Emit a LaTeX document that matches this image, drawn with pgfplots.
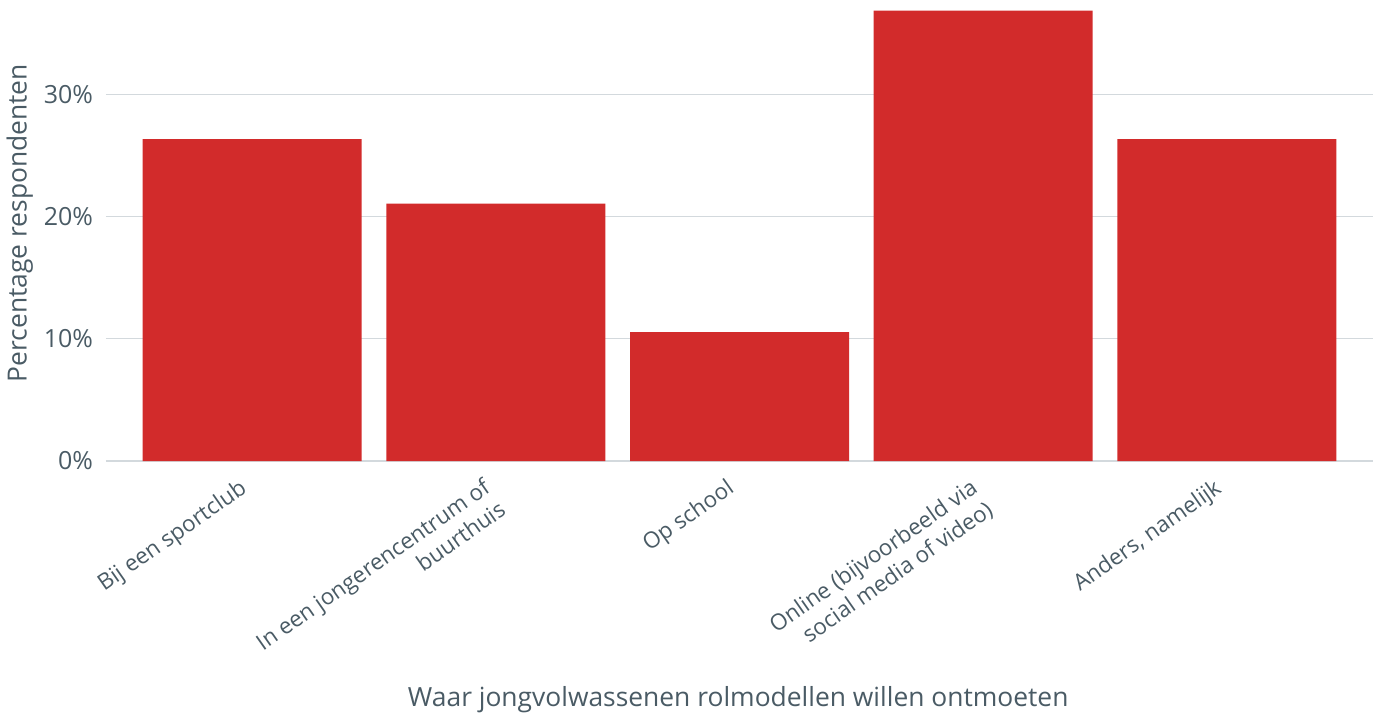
\documentclass[border=0pt]{standalone}
\usepackage{fontspec}
\setmainfont{Open Sans}
\usepackage{pgfplots}
\pgfplotsset{compat=1.18}
\definecolor{barred}{HTML}{D22B2B}
\definecolor{txt}{HTML}{4A5B65}
\definecolor{gridc}{HTML}{D3D9DD}
\begin{document}
\begin{tikzpicture}
\path[use as bounding box] (-53pt,-128.5pt) rectangle (637pt,230.5pt);
\begin{axis}[
  scale only axis,
  width=633.5pt, height=230.5pt,
  xmin=-0.6, xmax=4.6, ymin=0, ymax=37.7,
  axis line style={draw=none},
  tick style={draw=none},
  ytick={0,10,20,30},
  yticklabel={\pgfmathprintnumber{\tick}\%},
  /pgf/number format/assume math mode=true,
  ymajorgrids,
  grid style={gridc, line width=0.6pt},
  xtick=data,
  xticklabels={Bij een sportclub, {In een jongerencentrum of\\buurthuis}, Op school, {Online (bijvoorbeeld via\\social media of video)}, {Anders, namelijk}},
  xticklabel style={xshift=-7pt, yshift=-8pt, rotate=35, anchor=north east, align=right, inner sep=0pt, font=\fontsize{11.2}{13.5}\selectfont, text=txt},
  yticklabel style={font=\fontsize{12.5}{14}\selectfont, text=txt, xshift=-3pt},
  ylabel={Percentage respondenten},
  xlabel={Waar jongvolwassenen rolmodellen willen ontmoeten},
  label style={font=\fontsize{13.2}{15}\selectfont, text=txt},
  ylabel style={at={(axis description cs:-0.068,0.516)}, anchor=center},
  xlabel style={at={(axis description cs:0.499,-0.518)}, anchor=center},
]
\addplot[ybar, bar width=109.5pt, fill=barred, draw=none] coordinates {
  (0,26.32) (1,21.05) (2,10.53) (3,36.84) (4,26.32)
};
\end{axis}
\end{tikzpicture}
\end{document}
